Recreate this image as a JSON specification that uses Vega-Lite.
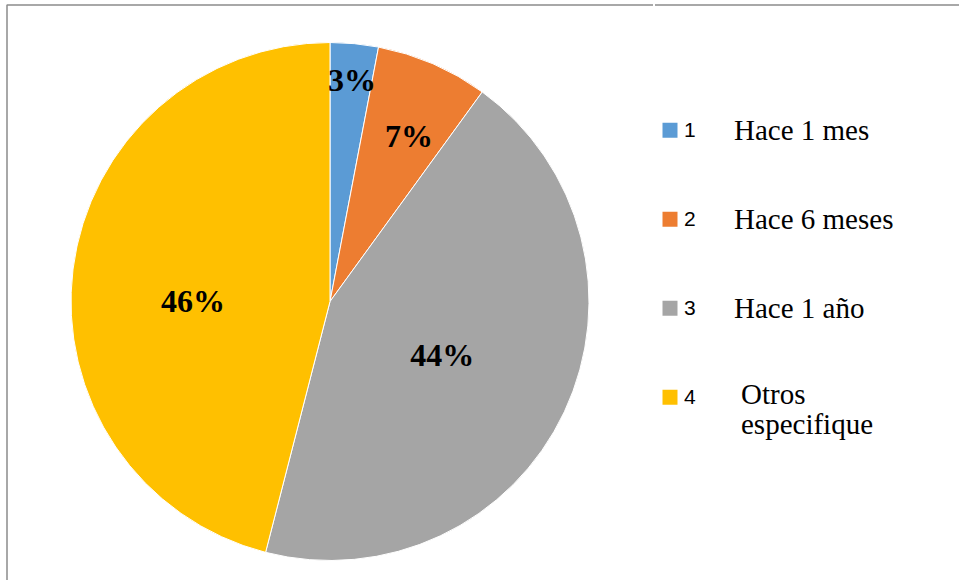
{
  "$schema": "https://vega.github.io/schema/vega-lite/v6.json",
  "padding": {"left": 6, "top": 4, "right": 0, "bottom": 0},
  "background": "white",
  "spacing": 0,
  "datasets": {
    "slices": [
      {"id": 1, "desc": "Hace 1 mes", "value": 3, "label": "3%"},
      {"id": 2, "desc": "Hace 6 meses", "value": 7, "label": "7%"},
      {"id": 3, "desc": "Hace 1 año", "value": 44, "label": "44%"},
      {"id": 4, "desc": "Otros\nespecifique", "value": 46, "label": "46%"}
    ]
  },
  "hconcat": [
    {
      "width": 646,
      "height": 575,
      "view": {"stroke": "#8c8c8c", "strokeWidth": 1.5, "strokeJoin": "bevel", "strokeCap": "butt", "strokeDash": [646, 1221, 575]},
      "data": {"name": "slices"},
      "encoding": {
        "theta": {"field": "value", "type": "quantitative", "stack": true},
        "order": {"field": "id", "type": "quantitative"}
      },
      "layer": [
        {
          "mark": {"type": "arc", "outerRadius": 259, "stroke": "#ffffff", "strokeWidth": 1, "yOffset": 9},
          "encoding": {
            "color": {
              "field": "id", "type": "nominal",
              "scale": {"domain": [1, 2, 3, 4], "range": ["#5b9bd5", "#ed7d31", "#a5a5a5", "#ffc000"]},
              "legend": null
            }
          }
        },
        {
          "mark": {"type": "text", "radius": 222, "dx": 1, "dy": 10, "font": "Liberation Serif", "fontWeight": "bold", "fontSize": 32, "fill": "#000000", "align": "center", "baseline": "middle"},
          "encoding": {
            "detail": {"field": "id", "type": "nominal"},
            "text": {"condition": {"test": "datum.id === 1", "field": "label"}, "value": ""}
          }
        },
        {
          "mark": {"type": "text", "radius": 184, "dx": 6, "dy": 13, "font": "Liberation Serif", "fontWeight": "bold", "fontSize": 32, "fill": "#000000", "align": "center", "baseline": "middle"},
          "encoding": {
            "detail": {"field": "id", "type": "nominal"},
            "text": {"condition": {"test": "datum.id === 2", "field": "label"}, "value": ""}
          }
        },
        {
          "mark": {"type": "text", "radius": 124, "dy": 11, "font": "Liberation Serif", "fontWeight": "bold", "fontSize": 32, "fill": "#000000", "align": "center", "baseline": "middle"},
          "encoding": {
            "detail": {"field": "id", "type": "nominal"},
            "text": {"condition": {"test": "datum.id === 3", "field": "label"}, "value": ""}
          }
        },
        {
          "mark": {"type": "text", "radius": 138, "dy": 27, "font": "Liberation Serif", "fontWeight": "bold", "fontSize": 32, "fill": "#000000", "align": "center", "baseline": "middle"},
          "encoding": {
            "detail": {"field": "id", "type": "nominal"},
            "text": {"condition": {"test": "datum.id === 4", "field": "label"}, "value": ""}
          }
        }
      ]
    },
    {
      "width": 305,
      "height": 575,
      "view": {"stroke": "#8c8c8c", "strokeWidth": 1.5, "strokeJoin": "bevel", "strokeCap": "butt", "strokeDash": [305, 3000]},
      "data": {"name": "slices"},
      "encoding": {
        "y": {
          "field": "id", "type": "quantitative",
          "scale": {"domain": [-0.4073, 6.0534], "reverse": true, "nice": false, "zero": false},
          "axis": null
        }
      },
      "layer": [
        {
          "mark": {"type": "point", "shape": "square", "filled": true, "size": 225, "opacity": 1},
          "encoding": {
            "x": {"value": 15},
            "color": {
              "field": "id", "type": "nominal",
              "scale": {"domain": [1, 2, 3, 4], "range": ["#5b9bd5", "#ed7d31", "#a5a5a5", "#ffc000"]},
              "legend": null
            }
          }
        },
        {
          "mark": {"type": "text", "font": "Liberation Sans", "fontSize": 21, "fill": "#000000", "align": "left", "baseline": "middle", "dy": 1},
          "encoding": {
            "x": {"value": 29},
            "text": {"field": "id", "type": "nominal"}
          }
        },
        {
          "transform": [{"filter": "datum.id < 4"}],
          "mark": {"type": "text", "font": "Liberation Serif", "fontSize": 29, "fill": "#000000", "align": "left", "baseline": "alphabetic", "dy": 10},
          "encoding": {
            "x": {"value": 79},
            "text": {"field": "desc", "type": "nominal"}
          }
        },
        {
          "transform": [{"filter": "datum.id === 4"}],
          "mark": {"type": "text", "font": "Liberation Serif", "fontSize": 29, "fill": "#000000", "align": "left", "baseline": "alphabetic", "dy": 7, "lineBreak": "\n", "lineHeight": 30},
          "encoding": {
            "x": {"value": 86},
            "text": {"field": "desc", "type": "nominal"}
          }
        }
      ]
    }
  ]
}
